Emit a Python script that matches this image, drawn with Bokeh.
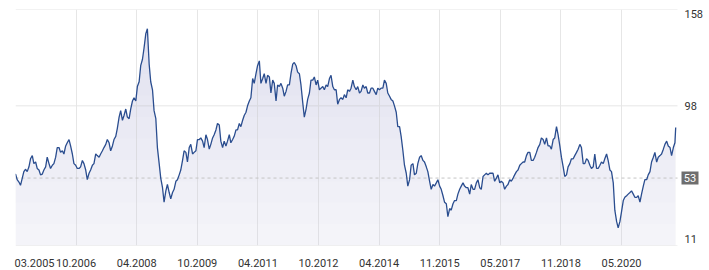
import numpy as np
from bokeh.plotting import figure
from bokeh.models import Range1d, FixedTicker
from bokeh.core.properties import value
from bokeh.embed import file_html
from bokeh.resources import INLINE

# ---- axis / tick data ----
x_start = 2005.2475          # 03.2005 (first tick, left edge)
x_end = 2021.77              # right edge of the chart area
tick_step = 1.5125           # years between x ticks
tick_labels = ["03.2005", "10.2006", "04.2008", "10.2009", "04.2011", "10.2012",
               "04.2014", "11.2015", "05.2017", "11.2018", "05.2020"]
y_min, y_max = 11, 158
y_grid_values = [11, 98, 158]
y_tick_labels = ["11", "98", "158"]
ref_value = 53

# ---- price series (semi-monthly: 1st and 15th of each month) ----
first_point = (2005.2475, 55.5)
brent_2005 = [55.5, 52, 50.5, 48.5, 53, 57, 58.5, 57, 60, 65, 67, 62, 63, 59, 58, 55, 55.5, 58]  # Apr-Dec
brent_2006 = [60, 66, 62, 59, 61, 62, 66, 72, 72, 69, 70, 68, 73, 75, 77, 73, 68, 62, 61, 59, 59, 60, 64, 62]
brent_2007 = [58, 52, 56, 58, 61, 62, 68, 67, 66, 68, 70, 72, 74, 77, 75, 70, 73, 77, 79, 84, 91, 95, 89, 92]
brent_2008 = [96, 91, 90, 96, 101, 103, 101, 110, 113, 123, 127, 134, 143, 146, 124, 113, 108, 95, 90, 72, 62, 53, 47, 38]
brent_2009 = [45, 49, 44, 40, 44, 46, 51, 52, 55, 58, 64, 70, 69, 63, 72, 74, 68, 69, 70, 77, 77, 78, 76, 72]
brent_2010 = [80, 77, 71, 74, 78, 80, 83, 87, 86, 76, 72, 76, 73, 76, 80, 75, 77, 79, 83, 83, 87, 85, 89, 92]
brent_2011 = [94, 98, 101, 103, 115, 112, 118, 123, 126, 112, 115, 118, 112, 117, 116, 106, 114, 112, 101, 111, 110, 112, 109, 104]
brent_2012 = [107, 111, 111, 118, 124, 125, 123, 119, 118, 111, 100, 91, 96, 102, 106, 114, 114, 116, 111, 114, 108, 109, 110, 108]
brent_2013 = [111, 110, 115, 117, 110, 108, 108, 99, 102, 103, 102, 105, 103, 108, 107, 109, 114, 110, 108, 110, 106, 107, 111, 109]
brent_2014 = [110, 106, 106, 109, 109, 107, 105, 109, 108, 109, 109, 114, 112, 106, 104, 102, 101, 98, 94, 85, 85, 79, 70, 61]
brent_2015 = [56, 48, 52, 61, 62, 55, 56, 62, 66, 67, 64, 63, 60, 57, 51, 46, 49, 48, 50, 52, 48, 46, 42, 38]
brent_2016 = [37, 29, 34, 33, 37, 39, 39, 43, 46, 48, 50, 48, 47, 47, 43, 49, 46, 46, 50, 52, 47, 46, 54, 55]
brent_2017 = [56, 55, 56, 56, 56, 51, 53, 55, 50, 51, 50, 46, 48, 49, 52, 51, 53, 55, 57, 58, 61, 62, 63, 63]
brent_2018 = [67, 69, 69, 64, 64, 66, 69, 72, 74, 78, 77, 74, 78, 73, 73, 71, 77, 78, 85, 80, 73, 66, 60, 54]
brent_2019 = [55, 60, 62, 65, 65, 67, 69, 71, 74, 72, 62, 62, 65, 64, 61, 59, 60, 68, 59, 59, 61, 63, 62, 65]
brent_2020 = [68, 64, 58, 57, 50, 33, 26, 22, 26, 32, 39, 41, 42, 43, 44, 45, 43, 41, 41, 42, 38, 43, 48, 52]
brent_2021 = [52, 55, 57, 63, 66, 69, 63, 66, 67, 68, 71, 74, 76, 73, 72, 67, 72, 75]  # Jan-Sep
last_point = (2021.725, 84.5)

yearly = {2005: brent_2005, 2006: brent_2006, 2007: brent_2007, 2008: brent_2008,
          2009: brent_2009, 2010: brent_2010, 2011: brent_2011, 2012: brent_2012,
          2013: brent_2013, 2014: brent_2014, 2015: brent_2015, 2016: brent_2016,
          2017: brent_2017, 2018: brent_2018, 2019: brent_2019, 2020: brent_2020,
          2021: brent_2021}

xs = [first_point[0]]
ys = [first_point[1]]
for yr, vals in yearly.items():
    first_month = 3 if yr == 2005 else 0   # 0-based month index
    for i, v in enumerate(vals):
        m = first_month + i // 2
        half = i % 2
        xs.append(yr + (m + 0.47 * half) / 12.0)
        ys.append(v)
xs.append(last_point[0])
ys.append(last_point[1])
xs = np.array(xs)
ys = np.array(ys, dtype=float)

# ---- layout geometry (pixels) ----
W, H = 709, 270
left_pad, top_pad, bottom_pad = 15, 9, 25
chart_w = 662                       # width of the chart area (grid lines stop here)
label_w = W - left_pad - chart_w    # strip on the right that holds the value labels
x_per_px = (x_end - x_start) / chart_w

tick_pos = [x_start + k * tick_step for k in range(len(tick_labels))]
first_label_pos = x_start + 19 * x_per_px   # first label sits left-aligned at the edge

FONT = "Roboto"
TXT = "#333333"
GRID = "#e6e6e6"

p = figure(width=W, height=H, output_backend="svg", toolbar_location=None,
           x_range=Range1d(x_start, x_end + label_w * x_per_px),
           y_range=Range1d(y_min, y_max), y_axis_location=None,
           min_border_left=left_pad, min_border_right=0,
           min_border_top=top_pad, min_border_bottom=bottom_pad)
p.outline_line_color = None
p.background_fill_color = "white"
p.border_fill_color = "white"

# vertical grid lines at the x ticks
p.xgrid.ticker = FixedTicker(ticks=tick_pos)
p.xgrid.grid_line_color = GRID
p.ygrid.visible = False
# horizontal grid lines only across the chart area
p.segment(x0=x_start, x1=x_end, y0=y_grid_values, y1=y_grid_values,
          line_color=GRID, line_width=1)

# x axis
xa = p.xaxis[0]
x_label_pos = [first_label_pos] + tick_pos[1:]
xa.ticker = FixedTicker(ticks=x_label_pos)
xa.major_label_overrides = {t: lab for t, lab in zip(x_label_pos, tick_labels)}
xa.axis_line_color = None
xa.major_tick_line_color = None
xa.minor_tick_line_color = None
xa.major_label_standoff = 7
xa.major_label_text_font = FONT
xa.major_label_text_font_size = "11px"
xa.major_label_text_color = TXT

# area with vertical gradient look
p.varea(x=xs, y1=y_min, y2=ys, fill_color="#d2d2e8", fill_alpha=0.2)
levels = np.linspace(y_min, y_max, 12)[:-1]
for L in levels:
    p.varea(x=xs, y1=L, y2=np.maximum(ys, L), fill_color="#b4b4d6", fill_alpha=0.03)

# dashed reference line at the first value
p.segment(x0=x_start, x1=x_end, y0=ref_value, y1=ref_value,
          line_color="#c4c4c4", line_dash="3 3", line_width=1)

# price line
p.line(xs, ys, line_color="#2a4d8f", line_width=1.3)

# value labels on the right (158 / 11 sit just inside the chart edges)
y_label_pos = [y_min + 4, 98, y_max - 3]
p.text(x=x_end, y=y_label_pos, text=y_tick_labels, x_offset=7,
       text_align="left", text_baseline="middle", text_font=value(FONT),
       text_font_size="11px", text_color=TXT)

# reference value box
p.rect(x=x_end + 12.5 * x_per_px, y=ref_value, width=17, height=13,
       width_units="screen", height_units="screen",
       fill_color="#6e6e6e", line_color=None)
p.text(x=x_end + 12.5 * x_per_px, y=ref_value, text=[str(ref_value)],
       text_align="center", text_baseline="middle", text_font=value(FONT),
       text_font_size="11px", text_color="white")

open("out.html", "w").write(file_html(p, INLINE))
